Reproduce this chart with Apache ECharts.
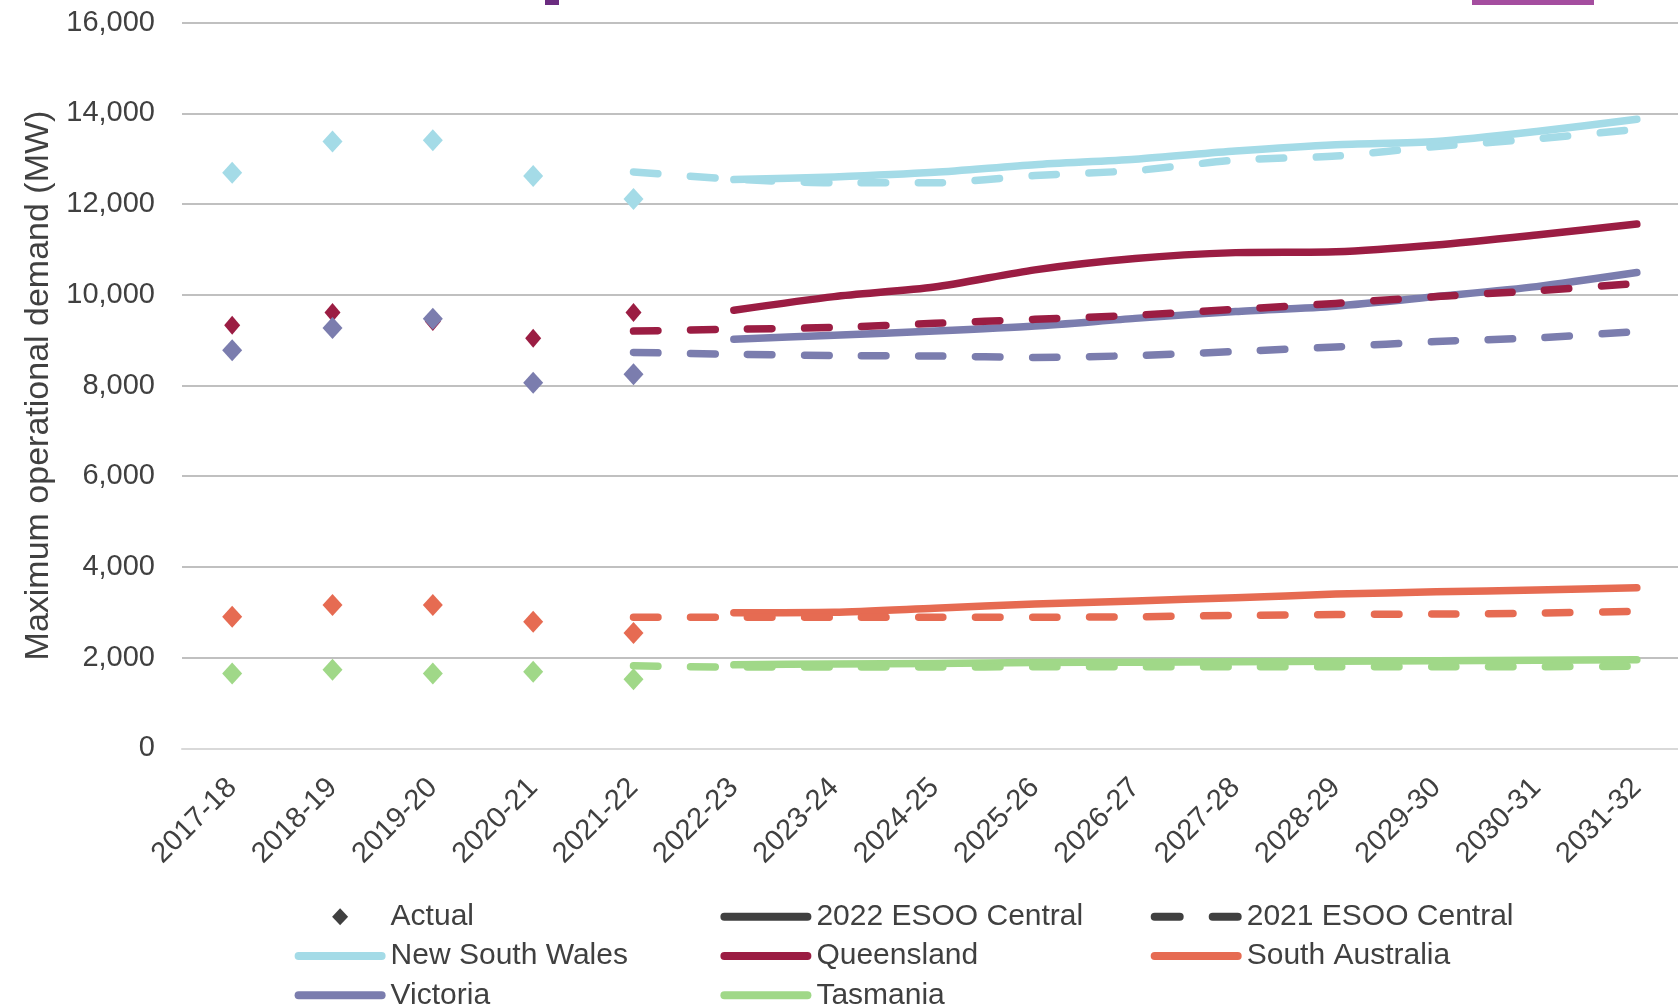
<!DOCTYPE html>
<html>
<head>
<meta charset="utf-8">
<script src="https://cdn.jsdelivr.net/npm/echarts@6/dist/echarts.min.js"></script>
<style>
html,body{margin:0;padding:0;background:#fff;}
#chart{width:1678px;height:1005px;}
</style>
</head>
<body>
<div id="chart"></div>
<script>
// ---- data ----
const categories = ['2017-18','2018-19','2019-20','2020-21','2021-22','2022-23','2023-24','2024-25','2025-26','2026-27','2027-28','2028-29','2029-30','2030-31','2031-32'];
const yTicks = [0, 2000, 4000, 6000, 8000, 10000, 12000, 14000, 16000];

// Actual (2017-18 .. 2021-22)
const nswActual = [12690, 13380, 13410, 12620, 12110];
const qldActual = [9330, 9610, 9410, 9040, 9610];
const vicActual = [8780, 9270, 9470, 8060, 8250];
const saActual  = [2900, 3160, 3160, 2790, 2540];
const tasActual = [1650, 1730, 1650, 1690, 1520];

// 2022 ESOO Central (2022-23 .. 2031-32)
const nsw2022 = [12540, 12600, 12700, 12870, 12990, 13170, 13310, 13380, 13600, 13870];
const qld2022 = [9660, 9960, 10170, 10550, 10800, 10930, 10950, 11100, 11320, 11560];
const vic2022 = [9020, 9110, 9200, 9310, 9480, 9630, 9750, 9960, 10180, 10490];
const sa2022  = [2990, 3000, 3090, 3180, 3250, 3320, 3400, 3450, 3490, 3540];
const tas2022 = [1840, 1860, 1870, 1890, 1900, 1910, 1920, 1930, 1940, 1950];

// 2021 ESOO Central (2021-22 .. 2031-32)
const nsw2021 = [12710, 12550, 12470, 12470, 12630, 12740, 12970, 13060, 13270, 13440, 13650];
const qld2021 = [9200, 9240, 9280, 9370, 9460, 9550, 9680, 9810, 9960, 10090, 10250];
const vic2021 = [8730, 8690, 8660, 8650, 8620, 8660, 8750, 8850, 8970, 9050, 9190];
const sa2021  = [2890, 2890, 2890, 2890, 2890, 2900, 2930, 2950, 2960, 2980, 3020];
const tas2021 = [1820, 1790, 1790, 1790, 1800, 1800, 1800, 1800, 1800, 1800, 1810];

const stateNames = ['New South Wales', 'Queensland', 'Victoria', 'South Australia', 'Tasmania'];
// ---- styling ----
const colors = {
  'New South Wales': '#A4DBE7',
  'Queensland': '#9B1D43',
  'Victoria': '#7B7DAE',
  'South Australia': '#E66B52',
  'Tasmania': '#A0D888'
};
const textColor = '#404040';
const FONT = '"Liberation Sans", Arial, sans-serif';

function pad(arr, start) {
  const out = new Array(categories.length).fill(null);
  arr.forEach((v, i) => { out[start + i] = v; });
  return out;
}

const actuals = {'New South Wales': nswActual, 'Queensland': qldActual, 'Victoria': vicActual, 'South Australia': saActual, 'Tasmania': tasActual};
const e2022 = {'New South Wales': nsw2022, 'Queensland': qld2022, 'Victoria': vic2022, 'South Australia': sa2022, 'Tasmania': tas2022};
const e2021 = {'New South Wales': nsw2021, 'Queensland': qld2021, 'Victoria': vic2021, 'South Australia': sa2021, 'Tasmania': tas2021};

const LW = 7.5;
const series = [];
stateNames.forEach(n => {
  series.push({
    name: n, type: 'line', data: pad(e2022[n], 5), smooth: 0.25,
    symbol: 'none', color: colors[n],
    lineStyle: {width: LW, color: colors[n], cap: 'round', join: 'round'},
    z: 2
  });
});
stateNames.forEach(n => {
  series.push({
    name: n + ' (2021 ESOO)', type: 'line', data: pad(e2021[n], 4), smooth: 0.25,
    symbol: 'none', color: colors[n],
    lineStyle: {width: LW, color: colors[n], type: [24.5, 32.5], cap: 'round', join: 'round'},
    z: 3
  });
});
['New South Wales', 'Queensland', 'South Australia', 'Tasmania', 'Victoria'].forEach(n => {
  series.push({
    name: n + ' (Actual)', type: 'scatter', data: pad(actuals[n], 0),
    symbol: 'diamond', symbolSize: n === 'Queensland' ? [16, 19] : [20, 22],
    itemStyle: {color: colors[n], opacity: 1}, z: 4
  });
});
// legend-only series
series.push({name: 'Actual', type: 'scatter', data: [], itemStyle: {color: '#404040', opacity: 1}});
series.push({name: '2022 ESOO Central', type: 'line', data: [], color: '#404040', lineStyle: {color: '#404040'}});
series.push({name: '2021 ESOO Central', type: 'line', data: [], color: '#404040', lineStyle: {color: '#404040', type: 'dashed'}});

const linePath = 'path://M4,0H87Q91,0 91,4Q91,8 87,8H4Q0,8 0,4Q0,0 4,0Z';
const dashPath = 'path://M4,0H29Q33,0 33,4Q33,8 29,8H4Q0,8 0,4Q0,0 4,0Z M62,0H87Q91,0 91,4Q91,8 87,8H62Q58,8 58,4Q58,0 62,0Z';
const diamondPath = 'path://M8,0L16,8.5L8,17L0,8.5Z';

function item(name, icon, color) {
  return {name: name, icon: icon, itemStyle: {color: color, borderWidth: 0, opacity: 1}};
}
const legendBase = {
  orient: 'vertical', itemWidth: 91, itemHeight: 17, itemGap: 0, padding: 0,
  top: 897, height: 200, selectedMode: false, symbolKeepAspect: true,
  textStyle: {fontSize: 30, color: textColor, fontFamily: FONT, lineHeight: 39.3}
};

const option = {
  backgroundColor: '#ffffff',
  animation: false,
  textStyle: {fontFamily: FONT},
  grid: {left: 182, right: -9, top: 22.7, bottom: 256.7, containLabel: false, outerBoundsMode: 'none'},
  xAxis: {
    type: 'category', data: categories, boundaryGap: true,
    axisTick: {show: false},
    axisLine: {show: true, lineStyle: {color: '#d9d9d9', width: 2}},
    axisLabel: {rotate: 45, fontSize: 29, color: textColor, fontFamily: FONT, margin: 35, interval: 0}
  },
  yAxis: {
    type: 'value', min: yTicks[0], max: yTicks[yTicks.length - 1], interval: yTicks[1] - yTicks[0],
    name: 'Maximum operational demand (MW)', nameLocation: 'middle', nameGap: 126,
    nameTextStyle: {fontSize: 34, color: textColor, fontFamily: FONT},
    axisLine: {show: false}, axisTick: {show: false},
    axisLabel: {fontSize: 29, color: textColor, fontFamily: FONT, margin: 27,
      formatter: v => v.toLocaleString('en-US')},
    splitLine: {lineStyle: {color: '#c0c0c0', width: 2}}
  },
  legend: [
    Object.assign({}, legendBase, {left: 294.6, data: [
      item('Actual', diamondPath, '#404040'),
      item('New South Wales', linePath, colors['New South Wales']),
      item('Victoria', linePath, colors['Victoria'])
    ]}),
    Object.assign({}, legendBase, {left: 720.4, data: [
      item('2022 ESOO Central', linePath, '#404040'),
      item('Queensland', linePath, colors['Queensland']),
      item('Tasmania', linePath, colors['Tasmania'])
    ]}),
    Object.assign({}, legendBase, {left: 1150.7, data: [
      item('2021 ESOO Central', dashPath, '#404040'),
      item('South Australia', linePath, colors['South Australia'])
    ]})
  ],
  graphic: [
    {type: 'rect', left: 545, top: 0, shape: {width: 14, height: 5}, style: {fill: '#6B2C80'}, silent: true},
    {type: 'rect', left: 1472, top: 0, shape: {width: 122, height: 5}, style: {fill: '#A44D9F'}, silent: true}
  ],
  series: series
};

const chart = echarts.init(document.getElementById('chart'), null, {renderer: 'canvas'});
chart.setOption(option);
</script>
</body>
</html>
